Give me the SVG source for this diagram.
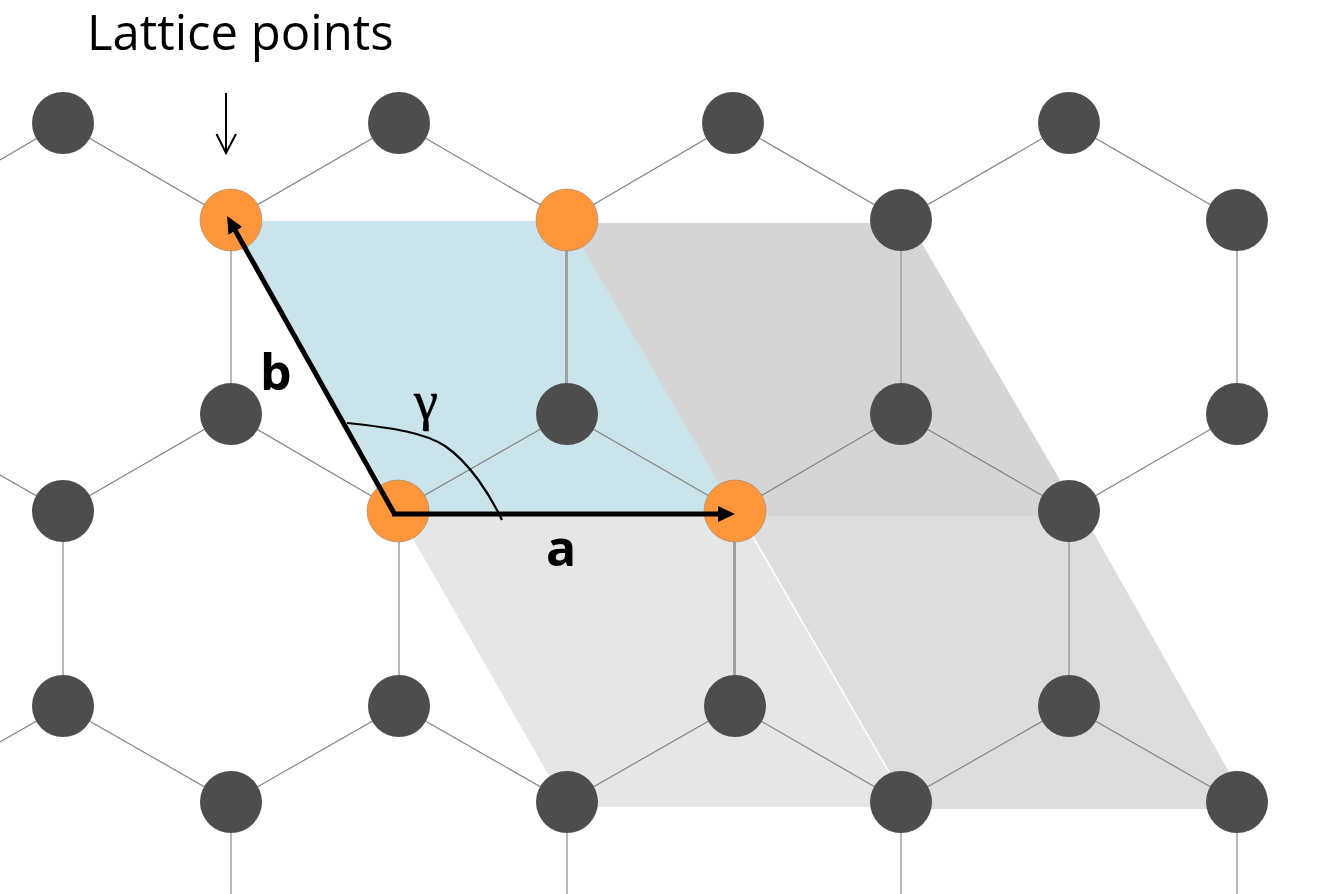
<svg xmlns="http://www.w3.org/2000/svg" width="1334" height="894" viewBox="0 0 1334 894">
<style>
.e{stroke:#858585;stroke-width:1.2;fill:none}
.v{stroke:#a0a0a0;stroke-width:1.500;fill:none}
.w{stroke:#a0a0a0;stroke-width:3;fill:none}
.d{fill:#4d4d4d}
.o{fill:#ff963c;stroke:#8a7a66;stroke-width:.5}
.t{font-family:"Open Sans","Noto Sans",sans-serif;fill:#000}
.b{font-family:"Open Sans","Noto Sans",sans-serif;font-weight:700;font-size:50px;fill:#000}
</style>
<defs>
<marker id="ah" markerUnits="userSpaceOnUse" markerWidth="20" markerHeight="20" refX="9" refY="8" orient="auto"><path d="M0 0L17 8L0 16Z" fill="#000"/></marker>
</defs>
<g id="cells">
<polygon points="397,511 741,511 909,807 567,807" fill="#e6e6e6"/>
<polygon points="741,516 1084,516 1250,809 909,809" fill="#dddddd"/>
<polygon points="567,223 910,223 1081,516 735,516" fill="#d5d5d5"/>
<polygon points="231,221 567,221 735,511 397,511" fill="#cbe4ec"/>
<path d="M752 535L889 772" stroke="#fff" stroke-width="1.500" fill="none"/>
</g>
<g id="connectors">
<path class="e" d="M0 160L63 123L231 220L399 123L567 220L733 123L901 220L1069 123L1237 220"/>
<path class="e" d="M0 475L63 511L231 414L397 511L567 414L735 511L901 414L1069 511L1237 414"/>
<path class="e" d="M0 742L63 706L231 802L399 706L567 802L735 706L901 802L1069 706L1237 802"/>
<path class="v" d="M231 220V414M901 220V414M1237 220V414M63 511V706M399 511V706M1069 511V706M231 802V894M567 802V894M901 802V894M1237 802V894"/>
<path class="w" d="M566.500 220V414M734.500 511V706"/>
</g>
<g id="nodes">
<circle id="n1" class="d" cx="63" cy="123" r="31"/><circle id="n2" class="d" cx="399" cy="123" r="31"/><circle id="n3" class="d" cx="733" cy="123" r="31"/><circle id="n4" class="d" cx="1069" cy="123" r="31"/>
<circle id="n5" class="o" cx="231" cy="220" r="31"/><circle id="n6" class="o" cx="567" cy="220" r="31"/><circle id="n7" class="d" cx="901" cy="220" r="31"/><circle id="n8" class="d" cx="1237" cy="220" r="31"/>
<circle id="n9" class="d" cx="231" cy="414" r="31"/><circle id="n10" class="d" cx="567" cy="414" r="31"/><circle id="n11" class="d" cx="901" cy="414" r="31"/><circle id="n12" class="d" cx="1237" cy="414" r="31"/>
<circle id="n13" class="d" cx="63" cy="511" r="31"/><circle id="n14" class="o" cx="398" cy="511" r="31"/><circle id="n15" class="o" cx="735" cy="511" r="31"/><circle id="n16" class="d" cx="1069" cy="511" r="31"/>
<circle id="n17" class="d" cx="63" cy="706" r="31"/><circle id="n18" class="d" cx="399" cy="706" r="31"/><circle id="n19" class="d" cx="735" cy="706" r="31"/><circle id="n20" class="d" cx="1069" cy="706" r="31"/>
<circle id="n21" class="d" cx="231" cy="802" r="31"/><circle id="n22" class="d" cx="567" cy="802" r="31"/><circle id="n23" class="d" cx="901" cy="802" r="31"/><circle id="n24" class="d" cx="1237" cy="802" r="31"/>
</g>
<g id="vectors">
<path d="M394.500 514L231 223" stroke="#000" stroke-width="5" fill="none" marker-end="url(#ah)"/>
<path d="M392 514H727" stroke="#000" stroke-width="5" fill="none" marker-end="url(#ah)"/>
<path d="M347 423C395 428 425 433 445 446C470 463 490 495 502 520" stroke="#000" stroke-width="2.200" fill="none"/>
<path d="M226 93V153M216.500 134L226 153L236 134" stroke="#000" stroke-width="2" fill="none"/>
</g>
<g id="labels">
<text class="t" x="87" y="50" font-size="49">Lattice points</text>
<text class="b" x="260" y="390">b</text>
<text class="b" x="546" y="566">a</text>
<text x="414" y="419" font-family="'Liberation Serif',serif" font-size="54" stroke="#000" stroke-width=".6" fill="#000">γ</text>
</g>
</svg>
